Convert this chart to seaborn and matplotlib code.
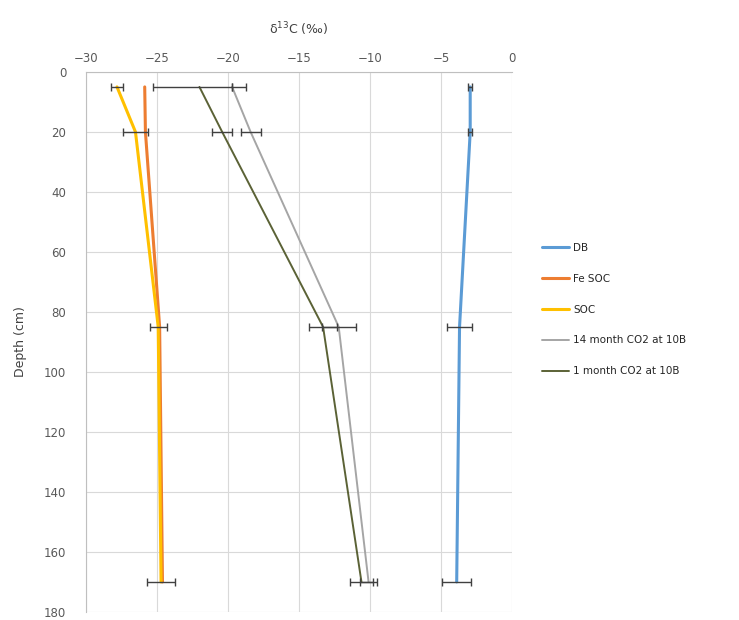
import numpy as np
import pandas as pd
import matplotlib
matplotlib.use("Agg")
import matplotlib.pyplot as plt
import seaborn as sns

# depths of the four sampling points (cm)
depth = [5, 20, 85, 170]

# d13C values (per mil)
db = [-2.95, -2.95, -3.7, -3.9]
fe_soc = [-25.85, -25.8, -24.8, -24.6]
soc = [-27.8, -26.5, -24.9, -24.7]
co2_14m = [-19.7, -18.4, -12.2, -10.1]
co2_1m = [-22.0, -20.4, -13.3, -10.6]

# error bars (+/-)
db_err = [0.15, 0.15, 0.9, 1.0]
soc_err = [0.4, 0.9, 0.6, 1.0]
co2_14m_err = [0.0, 0.7, 1.2, 0.6]
co2_1m_err = [3.3, 0.7, 1.0, 0.8]

labels = ["DB", "Fe SOC", "SOC", "14 month CO2 at 10B", "1 month CO2 at 10B"]
colors = ["#5B9BD5", "#ED7D31", "#FFC000", "#A5A5A5", "#5b6236"]
widths = [2.2, 2.2, 2.2, 1.4, 1.4]

sns.set_theme(style="whitegrid")
plt.rcParams['font.family'] = ['DejaVu Sans']

fig = plt.figure(figsize=(7.39, 6.2), dpi=100)
ax = fig.add_axes([0.116, 0.013, 0.577, 0.871])

series = [db, fe_soc, soc, co2_14m, co2_1m]
for vals, lab, col, lw in zip(series, labels, colors, widths):
    df = pd.DataFrame({"d13C": vals, "Depth": depth})
    sns.lineplot(data=df, x="d13C", y="Depth", sort=False, orient="y",
                 color=col, linewidth=lw, label=lab, ax=ax)

# error bars
for vals, err in [(db, db_err), (soc, soc_err), (co2_14m, co2_14m_err), (co2_1m, co2_1m_err)]:
    ax.errorbar(vals, depth, xerr=err, fmt="none", ecolor="#404040",
                elinewidth=1.0, capsize=3, capthick=1.0, zorder=3)

ax.set_xlim(-30, 0)
ax.set_ylim(180, 0)
ax.set_xticks(np.arange(-30, 1, 5))
ax.set_yticks(np.arange(0, 181, 20))
ax.xaxis.tick_top()
ax.xaxis.set_label_position("top")
ax.set_xlabel("δ$^{13}$C (‰)", fontsize=9, color="#404040", labelpad=13)
ax.set_ylabel("Depth (cm)", fontsize=9, color="#404040", labelpad=12)
ax.tick_params(axis="x", labelsize=8.5, colors="#595959", length=0, pad=5)
ax.tick_params(axis="y", labelsize=8.5, colors="#595959", length=0, pad=14)
ax.grid(True, color="#D9D9D9", linewidth=0.8)
for s in ["right", "bottom"]:
    ax.spines[s].set_visible(False)
for s in ["left", "top"]:
    ax.spines[s].set_color("#BFBFBF")
    ax.spines[s].set_linewidth(0.8)

ax.legend(loc="upper left", bbox_to_anchor=(0.728, 0.615),
          bbox_transform=fig.transFigure, frameon=False, fontsize=7.5,
          handlelength=2.6, labelspacing=2.0, handletextpad=0.4, borderaxespad=0)

fig.savefig("out.png", dpi=100)
